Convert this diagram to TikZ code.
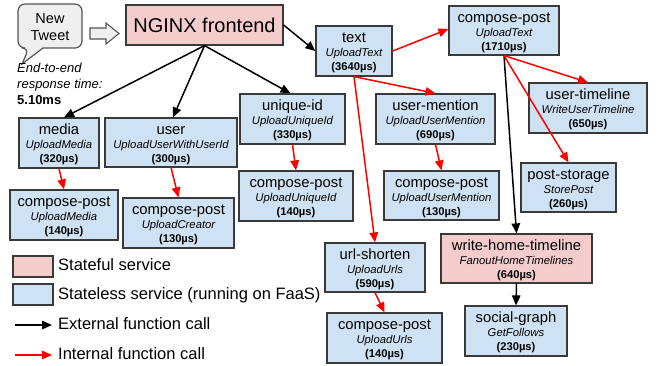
\documentclass[tikz,border=0pt]{standalone}
\usepackage{fontspec}
\setmainfont{Liberation Sans}
\usetikzlibrary{arrows.meta}

\definecolor{statefill}{HTML}{F4CCCC}
\definecolor{faasfill}{HTML}{CFE2F3}
\definecolor{boxline}{HTML}{3A3A3A}
\definecolor{bubblefill}{HTML}{EFEFEF}
\definecolor{bubbleline}{HTML}{555555}
\definecolor{callred}{HTML}{FF0000}

% service box: name, cx, cy, width, height, fill style, service, function, time
\newcommand\svc[9]{%
  \node[svcbox,#6,minimum width=#4pt,minimum height=#5pt] (#1) at (#2,#3) {};
  \node[maintxt] (#1-name) at ([yshift=-17pt]#1.north) {#7};
  \node[fntxt] (#1-fn) at ([yshift=-31.5pt]#1.north) {#8};
  \node[timetxt] (#1-time) at ([yshift=-45.5pt]#1.north) {(#9µs)};
}

\tikzset{
  svcbox/.style={draw=boxline, line width=1.2pt, rectangle, inner sep=0pt},
  stateful/.style={fill=statefill},
  stateless/.style={fill=faasfill},
  maintxt/.style={anchor=base, inner sep=0pt, font=\fontsize{14.8}{16}\selectfont},
  fntxt/.style={anchor=base, inner sep=0pt, font=\fontsize{11.3}{13}\selectfont\itshape},
  timetxt/.style={anchor=base, inner sep=0pt, font=\fontsize{11.2}{13}\selectfont\bfseries},
  legtxt/.style={anchor=base west, inner sep=0pt, font=\fontsize{16.5}{18}\selectfont},
  notetxt/.style={anchor=base west, inner sep=0pt, font=\fontsize{13}{15}\selectfont},
  callext/.style={draw=black, line width=1.5pt, -{Triangle[length=10pt,width=8.5pt]}},
  callint/.style={draw=callred, line width=1.5pt, -{Triangle[length=10pt,width=8.5pt]}},
}

\begin{document}
\begin{tikzpicture}[x=1pt,y=-1pt]
\useasboundingbox (0,0) rectangle (662,365);

% request bubble and hollow arrow
\draw[fill=bubblefill, draw=bubbleline, line width=1.2pt]
  (22,64) -- (43,48) [rounded corners=7pt] -- (82,48) -- (82,4) -- (18,4) -- (18,48) -- (29,48) [sharp corners] -- cycle;
\node[anchor=base, inner sep=0pt, font=\fontsize{14.5}{16}\selectfont] (tw1) at (50,23) {New};
\node[anchor=base, inner sep=0pt, font=\fontsize{14.5}{16}\selectfont] (tw2) at (50,40) {Tweet};
\draw[fill=bubblefill, draw=bubbleline, line width=1.1pt]
  (90,28) -- (106,28) -- (106,23) -- (119,33.5) -- (106,44) -- (106,39) -- (90,39) -- cycle;

\node[notetxt, font=\fontsize{13}{15}\selectfont\itshape] (e2e1) at (17,72.5) {End-to-end};
\node[notetxt, font=\fontsize{13}{15}\selectfont\itshape] (e2e2) at (17,88) {response time:};
\node[notetxt, font=\fontsize{13}{15}\selectfont\bfseries] (e2e3) at (17,104) {5.10ms};

% frontend
\node[svcbox, stateful, minimum width=157pt, minimum height=40pt,
      font=\fontsize{20}{22}\selectfont] (nginx) at (204.5,25) {NGINX frontend};

% services
\svc{text}{354}{51}{76}{50}{stateless}{text}{UploadText}{3640}
\svc{cptext}{504}{30.5}{110}{49}{stateless}{compose-post}{UploadText}{1710}
\svc{utl}{588}{108}{118}{50}{stateless}{user-timeline}{WriteUserTimeline}{650}
\svc{umen}{435.5}{119}{119}{50}{stateless}{user-mention}{UploadUserMention}{690}
\svc{uid}{292.5}{119}{105}{50}{stateless}{unique-id}{UploadUniqueId}{330}
\svc{media}{59}{143}{80}{50}{stateless}{media}{UploadMedia}{320}
\svc{user}{171}{142.5}{132}{49}{stateless}{user}{UploadUserWithUserId}{300}
\svc{cpmedia}{64}{215}{108}{50}{stateless}{compose-post}{UploadMedia}{140}
\svc{cpcreator}{178.5}{223}{111}{50}{stateless}{compose-post}{UploadCreator}{130}
\svc{cpuid}{296}{196}{114}{50}{stateless}{compose-post}{UploadUniqueId}{140}
\svc{cpumen}{441.5}{195.5}{115}{49}{stateless}{compose-post}{UploadUserMention}{130}
\svc{pstore}{568.5}{187.5}{95}{49}{stateless}{post-storage}{StorePost}{260}
\svc{wht}{516.5}{258.5}{151}{49}{stateful}{write-home-timeline}{FanoutHomeTimelines}{640}
\svc{sgraph}{516}{331}{102}{50}{stateless}{social-graph}{GetFollows}{230}
\svc{url}{375}{267.5}{100}{49}{stateless}{url-shorten}{UploadUrls}{590}
\svc{cpurl}{384.5}{338}{115}{50}{stateless}{compose-post}{UploadUrls}{140}

% external calls
\draw[callext] (nginx.south) -- ([xshift=5pt]media.north);
\draw[callext] (nginx.south) -- ([xshift=2pt]user.north);
\draw[callext] (nginx.south) -- ([xshift=-2pt]uid.north);
\draw[callext] (nginx.east) -- (text.west);
\draw[callext] (cptext.south) -- (wht.north);
\draw[callext] (wht.south) -- (sgraph.north);

% internal calls
\draw[callint] (text.east) -- ([yshift=1.5pt]cptext.west);
\draw[callint] (text.south) -- (umen.north);
\draw[callint] (text.south) -- (url.north);
\draw[callint] (cptext.south) -- (utl.north);
\draw[callint] (cptext.south) -- (pstore.north);
\draw[callint] (media.south) -- (cpmedia.north);
\draw[callint] (user.south) -- (cpcreator.north);
\draw[callint] (uid.south) -- (cpuid.north);
\draw[callint] (umen.south) -- (cpumen.north);
\draw[callint] (url.south) -- (cpurl.north);

% legend
\node[svcbox, stateful, minimum width=40pt, minimum height=21pt] (lgpink) at (33,266.5) {};
\node[svcbox, stateless, minimum width=40pt, minimum height=21pt] (lgblue) at (33,294.5) {};
\node[legtxt] (lgt1) at (58,270) {Stateful service};
\node[legtxt] (lgt2) at (58,299) {Stateless service (running on FaaS)};
\coordinate (lgea) at (15,325);
\coordinate (lgeb) at (52,325);
\coordinate (lgia) at (15,355);
\coordinate (lgib) at (52,355);
\draw[callext] (lgea) -- (lgeb);
\draw[callint] (lgia) -- (lgib);
\node[legtxt] (lgt3) at (58,329) {External function call};
\node[legtxt] (lgt4) at (58,359) {Internal function call};
\end{tikzpicture}
\end{document}
